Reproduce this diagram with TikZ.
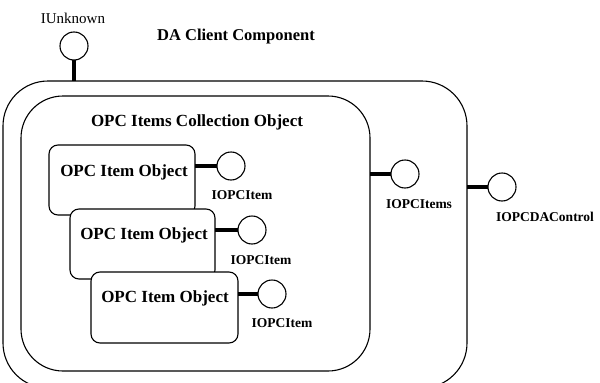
\documentclass[tikz,border=0pt]{standalone}
\usepackage{fontspec}
\setmainfont{Liberation Serif}
\begin{document}
\begin{tikzpicture}[x=1pt,y=-1pt,
  frame/.style={draw=black, line width=1.1pt, inner sep=0pt, outer sep=0pt},
  itembox/.style={frame, fill=white, rounded corners=9pt, minimum width=146pt, minimum height=70pt},
  iface/.style={circle, draw=black, line width=1.1pt, fill=white, minimum size=28pt, inner sep=0pt, outer sep=0pt},
  stem/.style={line width=4pt},
  title/.style={font=\fontsize{17}{20}\selectfont\bfseries, inner sep=0pt},
  ilabel/.style={font=\fontsize{13.5}{16}\selectfont\bfseries, inner sep=0pt}]
\useasboundingbox (0,0) rectangle (600,383);
% containers
\node[frame, rounded corners=45pt, minimum width=464pt, minimum height=307pt] (outer) at (235,234.5) {};
\node[frame, rounded corners=42pt, minimum width=349pt, minimum height=275pt] (inner) at (195.5,233.5) {};
% item objects
\node[itembox] (b1) at (122,180) {};
\node[itembox, minimum width=145pt] (b2) at (142.5,244) {};
\node[itembox, minimum width=147pt, minimum height=71pt] (b3) at (164.5,307.5) {};
% titles
\node[title, font=\fontsize{16.5}{20}\selectfont\bfseries] (tda) at (236,37) {DA Client Component};
\node[title] (tcoll) at (197,122) {OPC Items Collection Object};
\node[title] (t1) at (124,172) {OPC Item Object};
\node[title] (t2) at (144,235) {OPC Item Object};
\node[title] (t3) at (165,298) {OPC Item Object};
% interfaces
\node[iface] (cu) at (74,46) {};
\node[iface] (c1) at (231,166) {};
\node[iface] (c2) at (252,230) {};
\node[iface] (c3) at (272,294) {};
\node[iface] (citems) at (405,174) {};
\node[iface] (cda) at (502,187) {};
% stems
\draw[stem] (cu.south) -- (cu.south |- outer.north);
\draw[stem] (c1.west) -- (c1.west -| b1.east);
\draw[stem] (c2.west) -- (c2.west -| b2.east);
\draw[stem] (c3.west) -- (c3.west -| b3.east);
\draw[stem] (citems.west) -- (citems.west -| inner.east);
\draw[stem] (cda.west) -- (cda.west -| outer.east);
% interface labels
\node[inner sep=0pt, font=\fontsize{15}{17}\selectfont] (lu) at (73,18) {IUnknown};
\node[ilabel] (l1) at (242,195) {IOPCItem};
\node[ilabel] (l2) at (261,260) {IOPCItem};
\node[ilabel] (l3) at (282,323) {IOPCItem};
\node[ilabel] (litems) at (419,204) {IOPCItems};
\node[ilabel] (lda) at (545,217) {IOPCDAControl};
\end{tikzpicture}
\end{document}
